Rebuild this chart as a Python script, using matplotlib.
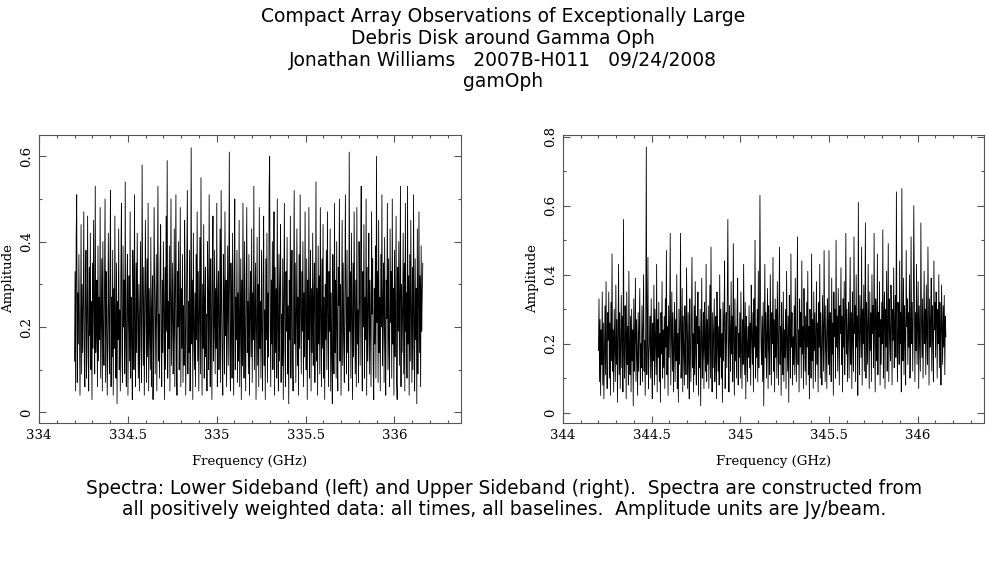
"""
Спектры gamOph: нижняя и верхняя боковые полосы.
"""
import numpy as np
import matplotlib
matplotlib.use('Agg')
import matplotlib.pyplot as plt
from matplotlib.ticker import MultipleLocator

# --- данные (амплитуда в сотых Jy/beam) ---
lsb_start, lsb_stop = 334.2, 336.16
usb_start, usb_stop = 344.2, 346.16

amp_lsb = [
    12, 33, 5, 41, 51, 7, 28, 16, 37, 22, 4, 19, 44, 9, 30, 14, 25, 47, 11, 6,
    29, 38, 8, 21, 46, 13, 5, 34, 18, 42, 10, 26, 3, 35, 15, 45, 24, 9, 53, 14,
    20, 31, 6, 39, 12, 27, 17, 48, 8, 23, 36, 5, 40, 18, 11, 30, 50, 7, 33, 24,
    4, 16, 42, 22, 9, 34, 52, 6, 27, 13, 38, 4, 29, 15, 46, 21, 8, 35, 2, 26,
    17, 43, 10, 24, 5, 33, 49, 14, 7, 39, 20, 31, 9, 54, 16, 6, 28, 37, 4, 22,
    32, 12, 47, 8, 27, 18, 3, 38, 26, 10, 51, 19, 6, 35, 14, 42, 23, 8, 30, 5,
    24, 40, 15, 7, 58, 28, 11, 34, 4, 21, 45, 25, 7, 36, 13, 49, 5, 29, 19, 10,
    41, 6, 24, 32, 3, 17, 48, 30, 9, 22, 37, 5, 27, 53, 12, 23, 8, 35, 44, 16,
    6, 31, 14, 40, 24, 3, 34, 10, 46, 19, 59, 8, 26, 15, 39, 5, 30, 50, 11, 22,
    35, 9, 18, 43, 6, 28, 51, 13, 4, 33, 20, 40, 10, 23, 48, 6, 29, 15, 37, 7,
    25, 11, 45, 30, 4, 19, 34, 52, 9, 26, 14, 38, 5, 22, 62, 16, 31, 3, 42, 20,
    10, 28, 6, 37, 17, 47, 12, 33, 5, 24, 41, 9, 55, 21, 4, 30, 15, 44, 8, 26,
    34, 13, 23, 5, 40, 27, 10, 51, 18, 6, 36, 24, 3, 31, 46, 12, 20, 38, 9, 29,
    15, 49, 6, 26, 33, 10, 21, 43, 7, 52, 25, 13, 4, 37, 28, 9, 47, 18, 31, 6,
    22, 39, 11, 30, 61, 15, 5, 35, 24, 8, 42, 20, 4, 33, 50, 10, 27, 17, 38, 7,
    28, 12, 45, 6, 21, 36, 3, 31, 11, 49, 23, 8, 40, 18, 5, 29, 48, 14, 26, 9,
    37, 4, 24, 33, 13, 43, 7, 28, 17, 53, 10, 22, 35, 3, 20, 41, 11, 30, 6, 48,
    15, 26, 8, 38, 19, 5, 32, 46, 11, 24, 3, 36, 17, 42, 7, 28, 13, 52, 60, 22,
    6, 31, 16, 40, 10, 25, 47, 4, 34, 14, 29, 8, 50, 20, 5, 37, 12, 30, 44, 7,
    23, 11, 36, 3, 27, 49, 15, 6, 33, 19, 41, 9, 25, 2, 31, 17, 46, 8, 28, 38,
    13, 5, 30, 52, 16, 35, 7, 22, 43, 11, 27, 4, 37, 15, 51, 24, 9, 33, 19, 40,
    6, 28, 13, 47, 21, 10, 36, 3, 31, 17, 48, 8, 25, 38, 5, 29, 14, 42, 11, 26,
    35, 7, 20, 54, 12, 29, 4, 39, 16, 32, 9, 48, 22, 6, 36, 15, 44, 8, 27, 3,
    30, 17, 38, 10, 47, 24, 6, 33, 19, 43, 5, 28, 13, 2, 37, 21, 9, 49, 14, 31,
    8, 40, 20, 5, 34, 25, 50, 12, 30, 4, 22, 45, 11, 35, 17, 7, 31, 51, 23, 9,
    38, 14, 27, 5, 61, 19, 33, 8, 42, 21, 3, 35, 13, 47, 25, 9, 31, 6, 48, 16,
    24, 7, 40, 28, 11, 37, 53, 15, 5, 33, 20, 44, 8, 27, 17, 50, 4, 34, 12, 25,
    42, 9, 31, 19, 6, 47, 23, 36, 10, 3, 29, 16, 39, 8, 60, 21, 33, 7, 45, 14,
    27, 5, 37, 20, 51, 11, 25, 35, 7, 41, 17, 4, 31, 22, 49, 10, 36, 15, 6, 43,
    21, 33, 8, 50, 16, 29, 4, 38, 13, 25, 46, 7, 3, 34, 19, 40, 11, 27, 53, 6,
    30, 14, 24, 42, 9, 35, 5, 49, 19, 28, 8, 53, 16, 32, 4, 37, 12, 45, 23, 7,
    34, 10, 51, 21, 5, 36, 17, 29, 2, 43, 9, 26, 47, 14, 32, 6, 39, 19, 28, 35,
]

amp_usb = [
    18, 33, 9, 27, 5, 24, 14, 35, 8, 26, 4, 19, 31, 11, 38, 16, 7, 29, 21, 35,
    10, 26, 5, 32, 15, 46, 12, 24, 6, 30, 19, 9, 37, 14, 27, 3, 22, 43, 11, 29,
    7, 20, 34, 13, 28, 6, 56, 17, 10, 31, 23, 4, 35, 14, 25, 8, 41, 19, 11, 28,
    6, 30, 15, 24, 2, 33, 12, 22, 39, 9, 27, 17, 5, 29, 12, 23, 36, 8, 20, 13,
    31, 9, 25, 40, 12, 21, 5, 28, 77, 11, 24, 45, 7, 17, 21, 28, 10, 33, 14, 4,
    26, 15, 37, 8, 30, 20, 11, 43, 6, 27, 16, 32, 9, 23, 3, 29, 17, 38, 10, 24,
    13, 28, 7, 33, 19, 47, 11, 25, 5, 31, 16, 26, 52, 8, 22, 35, 12, 29, 6, 18,
    32, 9, 27, 15, 40, 7, 23, 3, 30, 14, 25, 52, 10, 20, 36, 6, 28, 17, 8, 31,
    22, 11, 42, 24, 7, 29, 15, 4, 33, 19, 9, 26, 45, 13, 23, 6, 31, 11, 38, 17,
    8, 28, 20, 35, 5, 25, 13, 30, 2, 22, 39, 10, 18, 29, 7, 32, 19, 12, 43, 9,
    27, 14, 31, 7, 23, 37, 10, 48, 18, 6, 29, 13, 24, 33, 9, 17, 28, 4, 35, 20,
    12, 25, 8, 40, 16, 30, 10, 23, 3, 32, 15, 27, 44, 7, 21, 29, 13, 36, 56, 19,
    6, 31, 23, 12, 38, 17, 28, 9, 49, 21, 5, 33, 15, 25, 10, 30, 39, 8, 23, 16,
    29, 10, 35, 19, 7, 27, 14, 43, 24, 11, 32, 4, 28, 20, 9, 25, 16, 31, 13, 26,
    8, 37, 22, 14, 29, 6, 33, 19, 50, 10, 25, 16, 30, 9, 41, 13, 27, 63, 34, 20,
    14, 28, 9, 32, 2, 23, 43, 16, 29, 10, 22, 36, 7, 31, 19, 11, 40, 25, 8, 29,
    20, 45, 12, 27, 6, 33, 16, 30, 10, 38, 22, 8, 28, 48, 14, 25, 5, 32, 19, 11,
    35, 9, 24, 16, 30, 7, 41, 21, 12, 28, 3, 34, 25, 10, 46, 19, 29, 8, 22, 14,
    31, 11, 39, 20, 9, 26, 51, 14, 24, 6, 33, 19, 29, 10, 44, 17, 25, 7, 36, 22,
    12, 28, 8, 32, 19, 41, 11, 25, 4, 30, 21, 10, 46, 15, 27, 7, 35, 18, 29, 9,
    23, 38, 14, 26, 6, 32, 19, 43, 10, 29, 17, 8, 34, 22, 12, 47, 25, 9, 31, 18,
    7, 33, 25, 14, 47, 11, 29, 21, 9, 39, 17, 26, 5, 35, 22, 30, 10, 50, 19, 28,
    12, 36, 21, 8, 31, 23, 42, 14, 28, 6, 33, 19, 38, 11, 25, 52, 17, 30, 9, 23,
    32, 10, 26, 45, 14, 29, 7, 35, 21, 12, 51, 23, 31, 9, 40, 19, 28, 5, 61, 22,
    11, 34, 25, 16, 48, 8, 30, 20, 37, 12, 28, 55, 10, 32, 22, 14, 43, 26, 7, 35,
    18, 29, 9, 40, 23, 31, 13, 52, 21, 6, 33, 25, 15, 46, 11, 29, 22, 38, 8, 27,
    14, 32, 20, 53, 10, 28, 35, 7, 30, 19, 41, 12, 25, 49, 9, 33, 22, 15, 37, 27,
    8, 30, 21, 42, 13, 26, 34, 16, 64, 23, 9, 32, 27, 14, 44, 20, 29, 6, 65, 25,
    15, 39, 11, 31, 22, 8, 47, 25, 33, 14, 29, 19, 40, 10, 25, 51, 20, 32, 12, 28,
    60, 35, 9, 29, 18, 43, 14, 26, 38, 7, 31, 21, 12, 55, 27, 16, 33, 10, 25, 41,
    20, 30, 11, 37, 23, 14, 48, 28, 8, 33, 19, 26, 39, 12, 31, 22, 9, 44, 24, 32,
    16, 35, 27, 10, 30, 20, 40, 13, 32, 23, 8, 37, 25, 14, 31, 19, 34, 11, 28, 22,
]

title_lines = [
    "Compact Array Observations of Exceptionally Large",
    "Debris Disk around Gamma Oph",
    "Jonathan Williams   2007B-H011   09/24/2008",
    "gamOph",
]
caption_lines = [
    "Spectra: Lower Sideband (left) and Upper Sideband (right).  Spectra are constructed from",
    "all positively weighted data: all times, all baselines.  Amplitude units are Jy/beam.",
]

W, H = 987, 567
FRAME = '#555555'


def spectrum_panel(fig, rect, start, stop, amp, x0, ylim, ymajor):
    """Одна панель спектра в стиле PGPLOT."""
    ax = fig.add_axes(rect)
    amp = np.array(amp) / 100.0
    freq = np.linspace(start, stop, len(amp))
    ax.plot(freq, amp, color='black', linewidth=0.6)
    ax.set_xlim(x0, x0 + 2.375)
    ax.set_ylim(*ylim)
    ax.xaxis.set_major_locator(MultipleLocator(0.5))
    ax.xaxis.set_minor_locator(MultipleLocator(0.1))
    ax.yaxis.set_major_locator(MultipleLocator(ymajor))
    ax.yaxis.set_minor_locator(MultipleLocator(0.1))
    ax.xaxis.set_major_formatter(plt.FuncFormatter(lambda v, p: f'{v:g}'))
    ax.yaxis.set_major_formatter(plt.FuncFormatter(lambda v, p: f'{v:g}'))
    ax.tick_params(which='both', direction='in', top=True, right=True,
                   color=FRAME, width=0.8)
    ax.tick_params(which='major', length=5, labelsize=9.5, pad=4)
    ax.tick_params(which='minor', length=2.5)
    for lab in ax.get_yticklabels():
        lab.set_rotation(90)
        lab.set_va('center')
    for lab in ax.get_xticklabels() + ax.get_yticklabels():
        lab.set_family('DejaVu Serif')
    for sp in ax.spines.values():
        sp.set_color(FRAME)
        sp.set_linewidth(0.8)
    ax.set_xlabel('Frequency (GHz)', family='DejaVu Serif', fontsize=9.5, labelpad=10)
    ax.set_ylabel('Amplitude', family='DejaVu Serif', fontsize=9.5, labelpad=4)
    return ax


fig = plt.figure(figsize=(W / 100, H / 100), dpi=100)

left = spectrum_panel(fig, [39 / W, 1 - 423 / H, 422 / W, 288 / H],
                      lsb_start, lsb_stop, amp_lsb, 334, (-0.025, 0.65), 0.2)
right = spectrum_panel(fig, [563 / W, 1 - 423 / H, 421 / W, 288 / H],
                       usb_start, usb_stop, amp_usb, 344, (-0.03, 0.805), 0.2)

for i, line in enumerate(title_lines):
    fig.text(503 / W, 1 - (17 + 21.6 * i) / H, line, ha='center', va='center',
             fontsize=13.5, family='DejaVu Sans')
for i, line in enumerate(caption_lines):
    fig.text(504.5 / W, 1 - (488 + 21.5 * i) / H, line, ha='center', va='center',
             fontsize=13.4, family='DejaVu Sans')

fig.savefig('out.png', dpi=100)
plt.close(fig)
print("Сохранено: out.png")
